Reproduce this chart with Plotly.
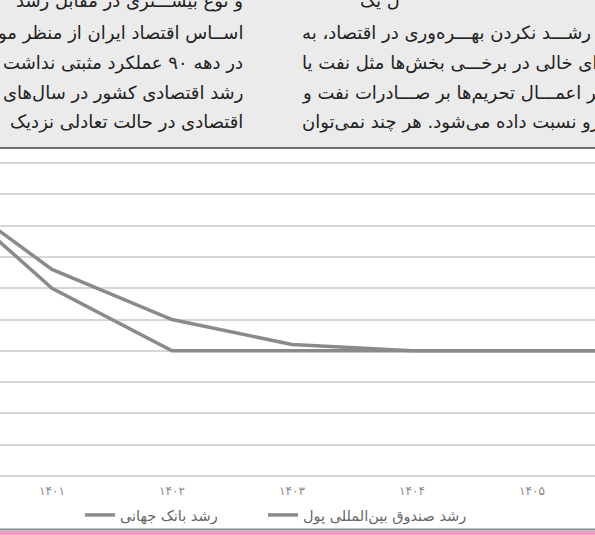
import plotly.graph_objects as go

# ---- data ----
years = [1400, 1401, 1402, 1403, 1404, 1405, 1406]
year_labels = ["۱۴۰۰", "۱۴۰۱", "۱۴۰۲", "۱۴۰۳", "۱۴۰۴", "۱۴۰۵", "۱۴۰۶"]
world_bank = [4.7, 3.3, 2.5, 2.1, 2.0, 2.0, 2.0]
imf = [4.7, 3.0, 2.0, 2.0, 2.0, 2.0, 2.0]
series_names = ["رشد بانک جهانی", "رشد صندوق بین\u200cالمللی پول"]

left_col_text = [
    "و نوع بیشـــتری در مقابل رشد",
    "اســاس اقتصاد ایران از منظر مو",
    "در دهه ۹۰ عملکرد مثبتی نداشت",
    "رشد اقتصادی کشور در سال\u200cهای",
    "اقتصادی در حالت تعادلی نزدیک",
]
right_col_text = [
    "ل یک",
    "از رشـــد نکردن بهـــره\u200cوری در اقتصاد، به",
    "ای خالی در برخـــی بخش\u200cها مثل نفت یا",
    "ر اثر اعمـــال تحریم\u200cها بر صـــادرات نفت و",
    "رو نسبت داده می\u200cشود. هر چند نمی\u200cتوان",
]

W, H = 595, 535
T, B = 149, 59
PH = H - T - B  # plot height in px
AX_BOTTOM = H - B


def py(pix):
    """pixel y (from top) -> paper y"""
    return (AX_BOTTOM - pix) / PH


def px(pix):
    return pix / W


LINE_COLOR = "#8a8a8a"
FONT = "DejaVu Sans"

fig = go.Figure()
fig.add_trace(go.Scatter(x=years, y=world_bank, mode="lines", name=series_names[0],
                         line=dict(color=LINE_COLOR, width=3.5), legend="legend"))
fig.add_trace(go.Scatter(x=years, y=imf, mode="lines", name=series_names[1],
                         line=dict(color=LINE_COLOR, width=3.5), legend="legend2"))

shapes = [
    dict(type="rect", xref="paper", yref="paper", x0=0, x1=1, y0=py(148), y1=py(0),
         fillcolor="#ebebeb", line=dict(width=0), layer="below"),
    dict(type="line", xref="paper", yref="paper", x0=0, x1=1, y0=py(148), y1=py(148),
         line=dict(color="#707070", width=2)),
    dict(type="line", xref="paper", yref="paper", x0=0, x1=1, y0=py(529.5), y1=py(529.5),
         line=dict(color="#8a8a8a", width=2)),
    dict(type="rect", xref="paper", yref="paper", x0=0, x1=1, y0=py(535), y1=py(531),
         fillcolor="#f39ac7", line=dict(width=0)),
]

annotations = []
line_ys = [1, 33, 63, 93, 122]
for i, t in enumerate(left_col_text):
    annotations.append(dict(text=t, x=px(245), y=py(line_ys[i]), xref="paper", yref="paper",
                            xanchor="right", yanchor="middle", showarrow=False,
                            font=dict(family=FONT, size=18, color="#222222")))
for i, t in enumerate(right_col_text):
    x0 = 358 if i == 0 else 300
    annotations.append(dict(text=t, x=px(x0), y=py(line_ys[i]), xref="paper", yref="paper",
                            xanchor="left", yanchor="middle", showarrow=False,
                            font=dict(family=FONT, size=18, color="#222222")))

legend_style = dict(orientation="h", xanchor="left", y=py(515), yanchor="middle",
                    font=dict(family=FONT, size=14.5, color="#666666"),
                    bgcolor="rgba(0,0,0,0)")

fig.update_layout(
    width=W, height=H,
    margin=dict(l=0, r=0, t=T, b=B, pad=0),
    paper_bgcolor="white", plot_bgcolor="white",
    showlegend=True,
    legend=dict(x=px(80), **legend_style),
    legend2=dict(x=px(263), **legend_style),
    xaxis=dict(range=[1401 - 52 / 120, 1401 + 543 / 120], tickvals=years, ticktext=year_labels,
               showgrid=False, zeroline=False, showline=False, ticks="",
               tickfont=dict(family=FONT, size=12, color="#8a8a8a"), ticklabelstandoff=6),
    yaxis=dict(range=[0, 5 + 14 / 62.6], dtick=0.5, showgrid=True, gridcolor="#d6d6d6",
               gridwidth=1.5, zeroline=True, zerolinecolor="#d6d6d6", zerolinewidth=1.5,
               showticklabels=False, ticks="", showline=False),
    shapes=shapes,
    annotations=annotations,
    hovermode=False,
)

fig.write_html("out.html", config={"displayModeBar": False},
               post_script="document.body.style.margin='0';")
